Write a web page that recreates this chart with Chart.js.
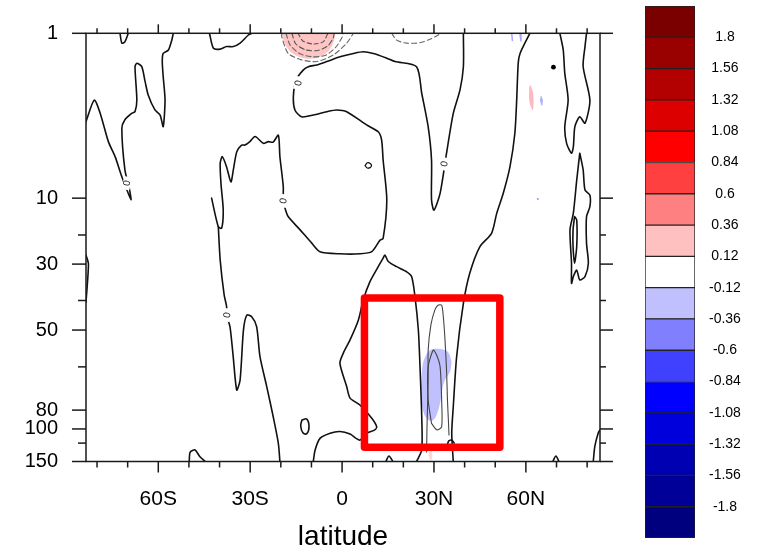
<!DOCTYPE html>
<html><head><meta charset="utf-8">
<script src="https://cdn.jsdelivr.net/npm/chart.js@4/dist/chart.umd.min.js"></script>
<style>
html,body{margin:0;padding:0;background:#fff;}
#wrap{position:relative;width:758px;height:548px;overflow:hidden;}
#main{position:absolute;left:0;top:0;}
#cbar{position:absolute;left:640px;top:0;}
</style></head><body>
<div id="wrap"><canvas id="main" width="758" height="548"></canvas><canvas id="cbar" width="118" height="548"></canvas></div>
<script>
// ---------- axes ----------
const latMajorTicks = [-60, -30, 0, 30, 60];
const latMajorLabels = ['60S', '30S', '0', '30N', '60N'];
const latMinorTicks = [-80, -70, -50, -40, -20, -10, 10, 20, 40, 50, 70, 80];
const levMajorTicks = [0, 38.5, 53.9, 69.3, 88.0, 92.4, 100];
const levMajorLabels = ['1', '10', '30', '50', '80', '100', '150'];
const levMinorTicks = [47.1, 62.4, 77.9, 95.7];

// ---------- colour bar ----------
const cbLevels = [-1.8, -1.56, -1.32, -1.08, -0.84, -0.6, -0.36, -0.12, 0.12, 0.36, 0.6, 0.84, 1.08, 1.32, 1.56, 1.8];
const cbColors = ['#00007f', '#000099', '#0000b3', '#0000dd', '#0000ff', '#4040ff', '#8080ff', '#c0c0ff', '#ffffff',
                  '#ffc0c0', '#ff8080', '#ff4040', '#ff0000', '#dd0000', '#b30000', '#990000', '#7a0000'];

// ---------- zero contours [lat, level] ----------
const contourSouth = [[-83.6,20.6],[-80.9,15.6],[-79.0,18.6],[-76.3,25.3],[-74.1,28.8],[-71.9,33.5],[-70.5,36.1],[-68.9,38.9],[-69.5,36.1],[-70.9,31.9],[-71.9,22.2],[-70.9,20.2],[-68.7,18.7],[-67.6,18.3],[-67.0,15.6],[-67.6,7.8],[-67.0,7.0],[-65.4,7.8],[-64.3,11.3],[-63.3,14.4],[-61.1,17.9],[-59.4,19.1],[-58.4,21.8],[-57.8,15.6],[-58.4,10.1],[-58.7,6.6],[-58.4,4.7],[-56.7,3.9],[-55.6,1.6],[-55.1,0]];
const contourTopDip = [[-72.5,0],[-71.9,2.3],[-70.9,2.0],[-69.8,0]];
const contourTopArc = [[-43.3,0],[-42.0,3.5],[-39.8,3.7],[-37.7,3.1],[-35.5,3.1],[-33.3,2.3],[-30.6,0.4],[-29.5,0]];
const contourMain = [[39.6,0],[39.6,7.8],[38.5,13.2],[36.3,18.7],[34.1,28.0],[32.0,37.4],[30.0,41.3],[29.2,38.9],[29.2,29.6],[28.1,21.8],[26.0,14.0],[24.3,7.8],[17.3,6.6],[14.6,5.8],[10.2,4.7],[6.9,4.3],[3.7,4.7],[-0.7,5.5],[-5.0,6.6],[-8.3,7.4],[-11.0,7.8],[-12.7,8.6],[-15.0,10.9],[-15.9,14.8],[-15.4,17.9],[-13.2,19.5],[-9.4,19.1],[-5.0,18.3],[-1.8,17.9],[1.5,18.3],[8.0,21.4],[11.8,23.0],[12.9,24.9],[13.4,29.6],[14.6,38.9],[13.4,47.9],[12.4,48.3],[9.7,51.0],[5.8,51.5],[-0.7,51.5],[-7.2,51.0],[-9.9,49.0],[-13.7,45.9],[-17.6,42.8],[-18.6,40.9],[-19.2,38.9],[-19.2,35.8],[-20.3,28.8],[-20.8,23.8],[-22.5,25.4],[-24.1,25.3],[-25.7,25.7],[-28.4,24.1],[-30.1,25.3],[-31.7,26.1],[-32.8,26.1],[-34.4,27.7],[-35.5,31.9],[-36.3,34.7],[-37.7,31.2],[-39.1,28.8],[-39.8,30.4],[-39.5,35.4],[-38.8,41.3],[-39.3,45.5],[-40.4,45.2],[-42.6,38.5]];
const contourSouthLow = [[-40.4,45.2],[-39.8,52.9],[-38.5,61.1],[-37.7,63.8],[-37.7,65.8],[-36.6,68.5],[-35.6,75.1],[-34.4,83.3],[-33.3,81.0],[-32.2,69.3],[-31.1,65.8],[-29.5,66.2],[-27.9,68.5],[-26.8,75.5],[-24.6,82.5],[-22.5,89.5],[-20.8,95.8],[-20.3,100]];
const contourEquatorLow = [[-9.4,100],[-8.8,97.3],[-7.2,94.6],[-3.9,93.4],[-0.7,93.0],[2.6,93.6],[5.8,95.0],[8.0,93.4],[10.7,92.6],[11.3,91.9],[9.7,89.9],[5.8,86.8],[2.6,85.2],[1.5,82.5],[-0.7,77.1],[0.4,74.7],[2.6,71.6],[5.3,67.0],[6.9,62.3],[9.1,58.0],[11.8,54.5],[13.4,52.5],[14.0,51.8],[15.1,53.3],[17.8,54.5],[21.1,55.7],[22.7,56.8],[23.8,61.5],[24.9,69.3],[25.4,77.1],[26.0,89.5],[26.0,97.3],[24.3,100]];
const contourNorthMid = [[61.3,0],[58.1,4.7],[57.5,7.0],[57.0,15.6],[56.4,23.4],[54.8,31.2],[52.6,37.4],[50.5,42.0],[48.8,46.7],[45.0,49.8],[41.7,56.0],[39.6,63.1],[37.4,75.5],[36.3,87.2],[35.8,93.4],[36.3,100]];
const contourNorthArc = [[34.2,96.6],[34.8,95.2],[35.8,95.0],[36.6,95.7]];
const contourPolarU = [[71.1,0],[72.2,3.9],[72.7,9.3],[73.8,15.6],[72.7,21.8],[73.3,25.7],[74.9,28.0],[75.5,26.5],[76.0,21.8],[77.6,19.5],[79.3,21.0],[80.9,15.6],[78.7,7.8],[79.3,3.1],[79.8,0]];
const contourPolarLoop = [[77.6,28.0],[78.7,31.9],[79.3,36.6],[80.9,37.8],[80.9,40.5],[79.8,42.8],[79.8,49.0],[80.4,53.7],[79.3,56.8],[77.6,57.6],[76.6,55.3],[75.5,56.8],[74.9,58.4],[74.9,53.7],[74.4,45.9],[75.5,42.0],[76.6,34.3],[77.6,28.0]];
const contourPolarInner = [[75.9,42.8],[76.6,43.6],[76.6,49.8],[75.9,53.7],[75.4,49.8],[75.4,45.9],[75.9,42.8]];
const contourCorner = [[82.0,100],[82.5,96.5],[83.6,93.4],[84.2,92.6]];
const bumpSouth = [[-49.9,100],[-49.6,97.8],[-48.0,97.3],[-46.4,98.9],[-44.7,100]];
const bumpTropic = [[14.3,100],[15.3,98.7],[16.6,100]];
const bumpNorth = [[68.8,100],[69.8,98.7],[70.8,100]];
const bumpEdge = [[-83.6,51.8],[-82.8,53.9],[-83.6,62.8]];
const ovalLow = [[-13.1,90.3],[-11.5,90.1],[-10.8,91.9],[-11.5,93.5],[-12.8,93.3],[-13.5,91.7],[-13.1,90.3]];
const ovalMid = [[7.5,30.9],[8.4,30.2],[9.6,30.9],[8.4,31.5],[7.5,30.9]];
const zeroLabels = [[-70.3,35.0],[-14.3,11.6],[-19.2,39.1],[-37.6,65.8],[33.3,30.5]];

// ---------- non-zero contours ----------
const thinOuter = [[27.6,97.8],[27.7,92.6],[28.1,81.0],[28.1,74.0],[29.0,68.1],[30.3,64.6],[31.3,63.5],[32.5,63.5],[33.0,65.8],[33.6,71.6],[34.1,78.6],[34.4,85.6],[34.7,90.3],[34.9,93.8]];
const thinInner = [[29.2,91.1],[28.1,85.6],[28.1,77.9],[29.8,74.0],[30.9,75.2],[32.0,77.9],[32.5,85.6],[32.5,91.9],[30.9,92.6],[29.2,91.1]];
const dashOuter = [[-19.7,0],[-19.7,0.8],[-17.6,4.7],[-13.2,6.2],[-8.3,6.6],[-2.9,5.1],[1.5,2.3],[3.7,0]];
const dashSecond = [[-18.3,0],[-17.0,2.7],[-13.7,4.8],[-9.5,5.5],[-5.3,5.1],[-2.0,3.2],[0,0.9],[0.3,0]];
const dashThird = [[-16.4,0],[-15.1,2.5],[-11.8,3.9],[-7.9,4.0],[-4.6,2.9],[-2.9,1.1],[-2.6,0]];
const dashFourth = [[-14.4,0],[-12.8,1.8],[-9.5,2.5],[-6.2,2.0],[-4.6,0]];
const dashNorth = [[16.2,0],[17.8,1.6],[21.1,2.3],[25.4,2.2],[28.7,1.4],[31.4,0.4],[32.0,0]];

// ---------- shaded regions ----------
const redLight = [[-19.6,0],[-18.7,2.5],[-16.4,4.6],[-13.1,5.7],[-9.8,5.9],[-6.6,5.3],[-4.0,3.7],[-2.6,1.6],[-2.3,0]];
const redMid = [[-15.0,0],[-14.1,1.6],[-11.8,2.5],[-8.8,2.7],[-6.6,2.0],[-5.3,0.6],[-4.9,0]];
const redCore = [[-13.1,0],[-12.1,1.0],[-10.2,1.3],[-7.9,0.9],[-6.9,0]];
const blueUpper = [[25.8,82.1],[26.1,78.6],[26.7,76.3],[28.7,74.0],[31.9,73.7],[34.6,74.4],[35.8,76.8]];
const blueLower = [[25.8,82.1],[26.1,86.8],[27.4,89.8],[29.3,90.5],[30.9,89.1],[32.2,85.6],[33.3,81.4],[35.2,79.1],[35.8,76.8]];
const blueCoreUpper = [[29.2,85.2],[29.3,84.0],[30.2,83.3],[30.7,84.7]];
const blueCoreLower = [[29.2,85.2],[30.0,85.9],[30.7,84.7]];
const pinkStreakUpper = [[61.0,14.4],[61.3,12.1],[62.3,13.7],[62.6,15.6]];
const pinkStreakLower = [[61.0,14.4],[61.3,16.5],[62.3,17.9],[62.6,15.6]];
const blueStreakUpper = [[64.6,15.8],[64.9,14.6],[65.6,15.6]];
const blueStreakLower = [[64.6,15.8],[65.3,17.0],[65.6,15.6]];
const pinkLowUpper = [[28.1,98.5],[29.0,97.3],[29.6,98.5]];
const pinkLowLower = [[28.1,98.5],[29.0,99.8],[29.6,98.5]];
const blueTickA = [[55.4,0.2],[55.6,1.7]];
const blueTickB = [[58.1,0.3],[58.4,1.8]];
const blackDot = [[69.0,7.9]];
const blueDot = [[63.9,38.7]];

// ---------- highlight box ----------
const highlightBox = [[7.3,61.8],[51.5,61.8],[51.5,96.7],[7.3,96.7],[7.3,61.8]];

const FONT = '"Liberation Sans", Arial, Helvetica, sans-serif';
const P = arr => arr.map(([x, y]) => ({x, y}));
const NONE = 'rgba(0,0,0,0)';

function line(arr, extra) {
  return Object.assign({data: P(arr), borderColor: '#111', borderWidth: 1.6, pointRadius: 0,
    fill: false, tension: 0.25, order: 1}, extra || {});
}
function topShade(arr, color) {
  return {data: P(arr), borderColor: NONE, borderWidth: 1, backgroundColor: color,
    fill: {value: 0}, pointRadius: 0, tension: 0.3, order: 4};
}
function pairShade(upper, lower, color, edge) {
  return [
    {data: P(upper), borderColor: edge || NONE, borderWidth: 1, backgroundColor: color, fill: '+1', pointRadius: 0, tension: 0.35, order: 4},
    {data: P(lower), borderColor: edge || NONE, borderWidth: 1, fill: false, pointRadius: 0, tension: 0.35, order: 4}
  ];
}

const datasets = [
  topShade(redLight, '#ffc4c4'),
  topShade(redMid, '#ff9a9a'),
  topShade(redCore, '#ff5a5a'),
  ...pairShade(blueUpper, blueLower, '#c0c0ff'),
  ...pairShade(blueCoreUpper, blueCoreLower, '#8c8cff', '#4a4ad0'),
  ...pairShade(pinkStreakUpper, pinkStreakLower, '#ffb8c0'),
  ...pairShade(blueStreakUpper, blueStreakLower, '#b0b0ff'),
  ...pairShade(pinkLowUpper, pinkLowLower, '#ffd6d6'),
  line(blueTickA, {borderColor: '#a8a8ff', borderWidth: 1.5, tension: 0}),
  line(blueTickB, {borderColor: '#a8a8ff', borderWidth: 1.5, tension: 0}),
  line(dashOuter, {borderColor: '#666', borderWidth: 1.1, borderDash: [5, 3]}),
  line(dashSecond, {borderColor: '#666', borderWidth: 1.1, borderDash: [5, 3]}),
  line(dashThird, {borderColor: '#555', borderWidth: 1.1, borderDash: [5, 3]}),
  line(dashFourth, {borderColor: '#555', borderWidth: 1.1, borderDash: [4, 3]}),
  line(dashNorth, {borderColor: '#666', borderWidth: 1.1, borderDash: [5, 3]}),
  line(thinOuter, {borderColor: '#444', borderWidth: 1.1}),
  line(thinInner, {borderColor: '#444', borderWidth: 1.1}),
  line(contourSouth), line(contourTopDip), line(contourTopArc), line(contourMain),
  line(contourSouthLow), line(contourEquatorLow), line(contourNorthMid), line(contourNorthArc),
  line(contourPolarU), line(contourPolarLoop), line(contourPolarInner), line(contourCorner),
  line(bumpSouth), line(bumpTropic), line(bumpNorth), line(bumpEdge),
  line(ovalLow, {tension: 0.45}), line(ovalMid, {tension: 0.5, borderWidth: 1.3}),
  {data: P(blackDot), showLine: false, pointRadius: 2.4, pointBackgroundColor: '#000', pointBorderWidth: 0, order: 1},
  {data: P(blueDot), showLine: false, pointRadius: 1, pointBackgroundColor: '#9090ff', pointBorderWidth: 0, order: 1},
  line(highlightBox, {borderColor: '#ff0000', borderWidth: 7.5, tension: 0, order: 0,
    borderJoinStyle: 'round', borderCapStyle: 'round'})
];

const decor = {
  id: 'decor',
  afterDatasetsDraw(chart) {
    const {ctx, scales: {x, y}} = chart;
    ctx.save();
    ctx.font = '10px ' + FONT;
    ctx.textAlign = 'center';
    ctx.textBaseline = 'middle';
    zeroLabels.forEach(([lat, lev]) => {
      const px = x.getPixelForValue(lat), py = y.getPixelForValue(lev);
      ctx.save();
      ctx.translate(px, py);
      ctx.rotate(-1.35);
      ctx.fillStyle = '#fff';
      ctx.fillRect(-6.5, -4, 13, 8);
      ctx.fillStyle = '#111';
      ctx.fillText('0', 0, 0.5);
      ctx.restore();
    });
    ctx.restore();
  },
  afterDraw(chart) {
    const {ctx, chartArea: a, scales: {x, y}} = chart;
    ctx.save();
    ctx.strokeStyle = '#1a1a1a';
    ctx.lineWidth = 1.5;
    ctx.strokeRect(a.left, a.top, a.right - a.left, a.bottom - a.top);
    const seg = (x1, y1, x2, y2) => { ctx.beginPath(); ctx.moveTo(x1, y1); ctx.lineTo(x2, y2); ctx.stroke(); };
    [[latMajorTicks, 11, 9], [latMinorTicks, 6, 5]].forEach(([vals, lb, lt]) => vals.forEach(v => {
      const p = x.getPixelForValue(v);
      seg(p, a.bottom, p, a.bottom + lb);
      seg(p, a.top, p, a.top - lt);
    }));
    [[levMajorTicks, 14, 13], [levMinorTicks, 8, 6]].forEach(([vals, ll, lr]) => vals.forEach(v => {
      const p = y.getPixelForValue(v);
      seg(a.left, p, a.left - ll, p);
      seg(a.right, p, a.right + lr, p);
    }));
    ctx.restore();
  }
};

new Chart(document.getElementById('main'), {
  type: 'line',
  data: {datasets},
  options: {
    responsive: false, animation: false, events: [],
    layout: {padding: {top: 33.3, right: 158, left: 0, bottom: 0}},
    plugins: {legend: {display: false}, tooltip: {enabled: false}},
    elements: {point: {radius: 0}, line: {borderCapStyle: 'round', borderJoinStyle: 'round'}},
    scales: {
      x: {
        type: 'linear', min: -83.6, max: 84.2,
        grid: {display: false, drawTicks: false}, border: {display: false},
        afterBuildTicks: s => { s.ticks = latMajorTicks.map(v => ({value: v})); },
        ticks: {autoSkip: false, maxRotation: 0, padding: 25, color: '#000',
          font: {family: FONT, size: 21}, callback: (v, i) => latMajorLabels[i]},
        title: {display: true, text: 'latitude', color: '#000',
          font: {family: FONT, size: 28, lineHeight: 0.8}, padding: {top: 0, bottom: 0}},
        afterFit: s => { s.height = 86.5; s.paddingLeft = 0; s.paddingRight = 0; }
      },
      y: {
        type: 'linear', reverse: true, min: 0, max: 100,
        grid: {display: false, drawTicks: false}, border: {display: false},
        afterBuildTicks: s => { s.ticks = levMajorTicks.map(v => ({value: v})); },
        ticks: {autoSkip: false, padding: 28, color: '#000',
          font: {family: FONT, size: 20}, callback: (v, i) => levMajorLabels[i]},
        afterFit: s => { s.width = 86; s.paddingTop = 0; s.paddingBottom = 0; }
      }
    }
  },
  plugins: [decor]
});

// ---------- colour bar chart ----------
const cbBounds = [cbLevels[0] - 0.24, ...cbLevels, cbLevels[cbLevels.length - 1] + 0.24];
new Chart(document.getElementById('cbar'), {
  type: 'bar',
  data: {
    labels: [''],
    datasets: cbColors.map((c, i) => ({
      data: [[cbBounds[i], cbBounds[i + 1]]], backgroundColor: c, borderColor: '#222', borderWidth: 1,
      borderSkipped: false, barPercentage: 1, categoryPercentage: 1, grouped: false
    }))
  },
  options: {
    responsive: false, animation: false, events: [],
    layout: {padding: {left: 5, top: 6, bottom: 10, right: 0}},
    plugins: {legend: {display: false}, tooltip: {enabled: false}},
    scales: {
      x: {display: false},
      y: {
        position: 'right', min: cbBounds[0], max: cbBounds[cbBounds.length - 1],
        grid: {display: false, drawTicks: false}, border: {display: false},
        afterBuildTicks: s => { s.ticks = cbLevels.map(v => ({value: v})); },
        ticks: {autoSkip: false, padding: 14, crossAlign: 'center', color: '#000',
          font: {family: FONT, size: 14}, callback: v => String(+Number(v).toFixed(2))},
        afterFit: s => { s.width = 63; s.paddingTop = 0; s.paddingBottom = 0; }
      }
    }
  }
});
</script>
</body></html>
